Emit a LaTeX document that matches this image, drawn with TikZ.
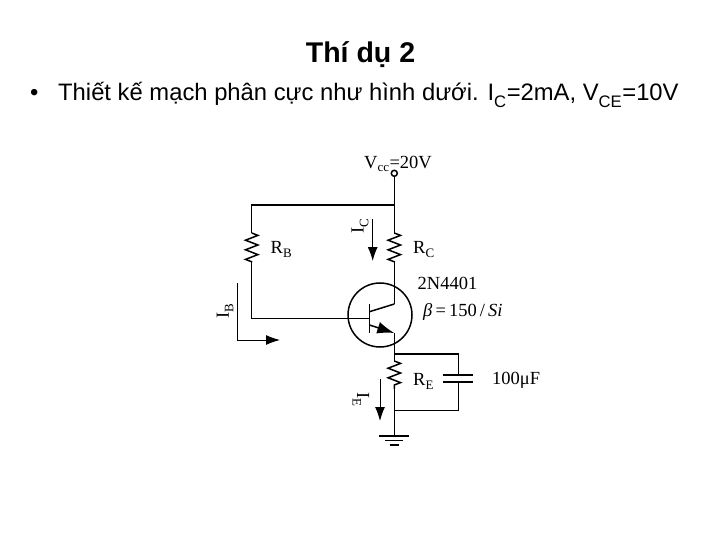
\documentclass[tikz,border=0pt]{standalone}
\usepackage{fontspec}
\setmainfont{Liberation Sans}
\newfontfamily\timesfont{Liberation Serif}
\usetikzlibrary{arrows.meta, decorations.pathmorphing}

\newcommand{\lowsub}[1]{\textsubscript{\raisebox{-0.15em}{#1}}}

\tikzset{
  wire/.style={line width=1.5pt},
  resistor/.style={wire, decorate, decoration={zigzag, segment length=9.6pt, amplitude=6.2pt}},
  current/.style={line width=1pt, -{Latex[length=14pt,width=10pt]}},
  partlabel/.style={font=\timesfont\fontsize{18.5}{20}\selectfont, inner sep=0pt},
}

\begin{document}
\begin{tikzpicture}[x=1pt, y=-1pt]
\useasboundingbox (0,0) rectangle (720,540);

% Heading and task line
\node[font=\bfseries\fontsize{28.5}{32}\selectfont, inner sep=0pt, anchor=base] (title) at (360.5,63) {Thí dụ 2};
\node[font=\fontsize{23.8}{28}\selectfont, inner sep=0pt, anchor=base west] (bullet) at (30,101) {•};
\node[font=\fontsize{23.8}{28}\selectfont, inner sep=0pt, anchor=base west] (task) at (58,101)
  {Thiết kế mạch phân cực như hình dưới. I\lowsub{C}=2mA, V\lowsub{CE}=10V};

% Supply rail
\node[circle, draw, wire, minimum size=6pt, inner sep=0pt] (vcc) at (394.3,173.3) {};
\coordinate (railL) at (251.7,205);
\coordinate (railR) at (394.3,205);
\coordinate (rbtop) at (251.7,233);
\coordinate (rbbot) at (251.7,262);
\coordinate (rctop) at (394.3,233);
\coordinate (rcbot) at (394.3,262);

% Transistor
\node[circle, draw, wire, minimum size=64pt, inner sep=0pt] (bjt) at (380,315) {};
\coordinate (basebend) at (251.7,318.3);
\coordinate (base) at (369.5,318.3);
\coordinate (bartop) at (369.5,304);
\coordinate (barbot) at (369.5,333);
\coordinate (cin) at (369.5,311.7);
\coordinate (cout) at (394.3,304);
\coordinate (ein) at (369.5,325);
\coordinate (eout) at (394.3,333);

% Emitter branch
\coordinate (ejoin) at (394.3,354);
\coordinate (retop) at (394.3,361);
\coordinate (rebot) at (394.3,389);
\coordinate (ebot) at (394.3,410.7);
\coordinate (gnd) at (394.3,436);
\coordinate (capR) at (458.3,354);
\coordinate (capRb) at (458.3,410.7);
\coordinate (plateA) at (458.3,375);
\coordinate (plateB) at (458.3,382);

\draw[wire] (vcc) -- (railR) -- (rctop);
\draw[wire] (railR) -- (railL) -- (rbtop);
\draw[resistor] (rbtop) -- (rbbot);
\draw[resistor] (rctop) -- (rcbot);
\draw[wire] (rcbot) -- (cout);
\draw[wire] (rbbot) -- (basebend) -- (base);
\draw[wire] (bartop) -- (barbot);
\draw[wire] (cin) -- (cout);
\draw[wire, -{Latex[length=17pt,width=12pt]}] (ein) -- (eout);
\draw[wire] (eout) -- (ejoin) -- (retop);
\draw[resistor] (retop) -- (rebot);
\draw[wire] (rebot) -- (ebot) -- (gnd);
\draw[wire] (ejoin) -- (capR) -- (plateA);
\draw[wire] (plateB) -- (capRb) -- (ebot);
\draw[wire] ([xshift=-15pt]plateA) -- ([xshift=15pt]plateA);
\draw[wire] ([xshift=-15pt]plateB) -- ([xshift=15pt]plateB);

% Ground
\draw[wire] ([xshift=-15pt]gnd) -- ([xshift=15pt]gnd);
\draw[wire] ([xshift=-9pt,yshift=-4.7pt]gnd) -- ([xshift=9pt,yshift=-4.7pt]gnd);
\draw[wire] ([xshift=-4.5pt,yshift=-9pt]gnd) -- ([xshift=4.5pt,yshift=-9pt]gnd);

% Current arrows
\coordinate (icstart) at (372.7,219);
\coordinate (icend) at (372.7,261);
\coordinate (ibstart) at (237.7,283);
\coordinate (ibbend) at (237.7,340);
\coordinate (ibend) at (280,340);
\coordinate (iestart) at (380,379);
\coordinate (ieend) at (380,421);
\draw[current] (icstart) -- (icend);
\draw[current] (ibstart) -- (ibbend) -- (ibend);
\draw[current] (iestart) -- (ieend);

% Labels
\node[partlabel, anchor=base] (vcclabel) at (398,168.5) {V\textsubscript{cc}=20V};
\node[partlabel, anchor=base west] (rblabel) at (270.5,253) {R\lowsub{B}};
\node[partlabel, anchor=base west] (rclabel) at (413,253) {R\lowsub{C}};
\node[partlabel, anchor=base west] (relabel) at (413,385) {R\lowsub{E}};
\node[partlabel, anchor=base west] (partno) at (417.5,289) {2N4401};
\node[partlabel, anchor=base west] (betalabel) at (423,316.7) {\itshape β\upshape\,=\,150\,/\,\itshape Si};
\node[partlabel, anchor=base west] (caplabel) at (492,384) {100μF};
\node[partlabel, rotate=90] (iclabel) at (360,226) {I\lowsub{C}};
\node[partlabel, rotate=90] (iblabel) at (225,311) {I\lowsub{B}};
\node[partlabel, rotate=-90] (ielabel) at (361,400) {I\lowsub{E}};
\end{tikzpicture}
\end{document}
